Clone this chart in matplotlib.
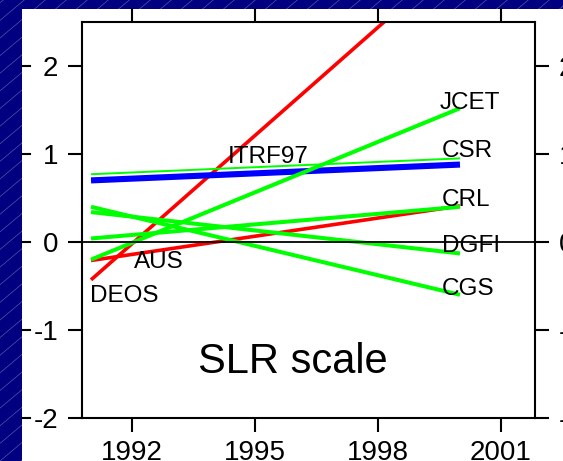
import matplotlib
matplotlib.use('Agg')
import matplotlib.pyplot as plt
import matplotlib.transforms as mtransforms
from matplotlib.lines import Line2D
from matplotlib.patches import Rectangle

plt.rcParams['font.family'] = ['Liberation Sans', 'DejaVu Sans']
plt.rcParams['axes.unicode_minus'] = False

# series: value at start (1991) and end (2000) of each fitted line
names = ['DEOS', 'AUS', 'ITRF97', 'CSR', 'JCET', 'CRL', 'DGFI', 'CGS']
t0, t1 = 1991.0, 2000.0
v_start = [-0.43, -0.21, 0.70, 0.77, -0.20, 0.04, 0.34, 0.40]
v_end = [3.26, 0.41, 0.88, 0.95, 1.52, 0.40, -0.13, -0.60]
colors = ['#ff0000', '#ff0000', '#0000ff', '#00ff00', '#00ff00', '#00ff00', '#00ff00', '#00ff00']
widths = [2.6, 2.6, 4.4, 1.4, 2.9, 2.9, 2.9, 2.9]

xticks = [1992, 1995, 1998, 2001]
yticks = [-2, -1, 0, 1, 2]

# label anchors (left edge, baseline)
label_pos = {
    'DEOS': (1990.98, -0.68), 'AUS': (1992.05, -0.30), 'ITRF97': (1994.34, 0.90),
    'CSR': (1999.56, 0.97), 'JCET': (1999.51, 1.51), 'CRL': (1999.56, 0.41),
    'DGFI': (1999.56, -0.11), 'CGS': (1999.56, -0.60),
}

W, H = 563, 461
fig = plt.figure(figsize=(W / 100, H / 100), dpi=100)
fig.patch.set_facecolor('#000080')

# slide background hatch
for k in range(-40, 40):
    x0 = k * 21
    fig.add_artist(Line2D([x0 / W, (x0 + 560) / W], [0, 470 / H], transform=fig.transFigure,
                          color='#6a6ab0', lw=0.4, zorder=0))

# white panel
fig.add_artist(Rectangle((22 / W, 0), 1, (H - 9) / H, transform=fig.transFigure,
                         facecolor='white', edgecolor='none', zorder=0.5))

ax = fig.add_axes([82 / W, 1 - 418 / H, (535 - 82) / W, (418 - 22) / H])
ax.set_facecolor('white')
ax.set_zorder(1)

for n, a, b, c, w in zip(names, v_start, v_end, colors, widths):
    ax.plot([t0, t1], [a, b], color=c, lw=w, solid_capstyle='butt')

ax.axhline(0, color='black', lw=1.3, zorder=3)

for n in names:
    x, y = label_pos[n]
    ax.text(x, y, n, fontsize=17.5, ha='left', va='baseline', zorder=4)

ax.text(1993.61, -1.49, 'SLR scale', fontsize=30, ha='left', va='baseline')

ax.set_xlim(1990.78, 2001.83)
ax.set_ylim(-2, 2.5)
ax.set_xticks(xticks)
ax.set_xticklabels([str(v) for v in xticks])
ax.set_yticks(yticks)
ax.set_yticklabels([str(v) for v in yticks])
ax.tick_params(axis='both', direction='out', length=10, width=1.5, labelsize=20,
               top=True, right=True, labelright=True)
ax.tick_params(axis='x', pad=6)
ax.tick_params(axis='y', pad=7)
for s in ax.spines.values():
    s.set_linewidth(1.5)

# tick marks from neighbouring panel at the left edge
tr = mtransforms.blended_transform_factory(fig.transFigure, ax.transData)
for v in yticks:
    fig.add_artist(Line2D([22 / W, 30 / W], [v, v], transform=tr, color='black', lw=1.5, zorder=2))

fig.savefig('out.png', dpi=100, facecolor=fig.get_facecolor())
